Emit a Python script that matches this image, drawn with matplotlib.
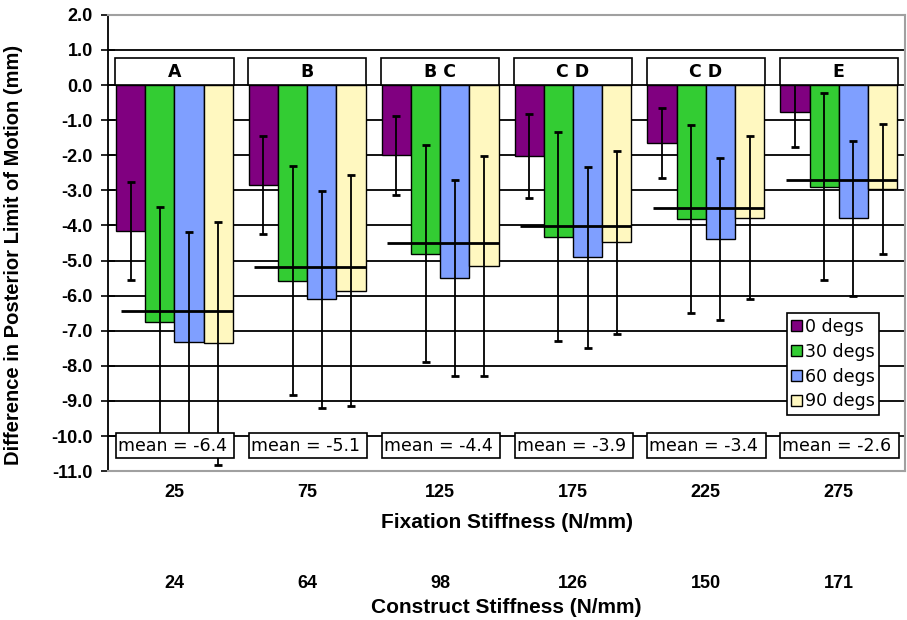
import matplotlib
matplotlib.use("Agg")
import matplotlib.pyplot as plt
from matplotlib.patches import Rectangle
import numpy as np

# ---- data ----
fixation = ["25", "75", "125", "175", "225", "275"]
construct = ["24", "64", "98", "126", "150", "171"]
groups = ["A", "B", "B C", "C D", "C D", "E"]
series = ["0 degs", "30 degs", "60 degs", "90 degs"]
vals_0 = [-4.15, -2.84, -2.00, -2.02, -1.65, -0.77]
vals_30 = [-6.75, -5.57, -4.80, -4.32, -3.82, -2.89]
vals_60 = [-7.31, -6.10, -5.50, -4.91, -4.38, -3.80]
vals_90 = [-7.36, -5.86, -5.15, -4.48, -3.78, -2.97]
sd_0 = [1.40, 1.39, 1.12, 1.21, 1.00, 1.00]
sd_30 = [3.29, 3.27, 3.08, 2.98, 2.68, 2.67]
sd_60 = [3.12, 3.09, 2.80, 2.58, 2.31, 2.21]
sd_90 = [3.45, 3.29, 3.13, 2.61, 2.32, 1.85]
mean_line = [-6.45, -5.18, -4.49, -4.01, -3.49, -2.69]
mean_text = ["-6.4", "-5.1", "-4.4", "-3.9", "-3.4", "-2.6"]

colors = ["#800080", "#33cc33", "#7f9fff", "#fff8c0"]

fig = plt.figure(figsize=(9.07, 6.20), dpi=100)
ax = fig.add_axes([0.119, 0.240, 0.879, 0.736])

x = np.arange(len(fixation))
w = 0.22
offsets = [-1.5 * w, -0.5 * w, 0.5 * w, 1.5 * w]
allvals = [vals_0, vals_30, vals_60, vals_90]
allsd = [sd_0, sd_30, sd_60, sd_90]

for k in range(4):
    ax.bar(x + offsets[k], allvals[k], width=w, color=colors[k],
           edgecolor="black", linewidth=1.0, label=series[k], zorder=2)
    ax.errorbar(x + offsets[k], allvals[k], yerr=allsd[k], fmt="none",
                ecolor="black", elinewidth=1.3, capsize=3.0, capthick=2.0,
                zorder=3)

# mean lines
for i in range(len(x)):
    ax.plot([x[i] - 0.40, x[i] + 0.44], [mean_line[i], mean_line[i]],
            color="black", lw=2.0, zorder=4, solid_capstyle="butt")

# group letter boxes
for i, g in enumerate(groups):
    ax.add_patch(Rectangle((x[i] - 0.445, 0.0), 0.89, 0.77,
                           facecolor="white", edgecolor="black", lw=1.2,
                           zorder=5))
    ax.text(x[i], 0.38, g, ha="center", va="center", fontsize=12.5,
            fontweight="bold", family="DejaVu Sans", zorder=6)

# mean boxes
for i, m in enumerate(mean_text):
    ax.add_patch(Rectangle((x[i] - 0.44, -10.62), 0.89, 0.72,
                           facecolor="white", edgecolor="black", lw=1.2,
                           zorder=5))
    ax.text(x[i] - 0.425, -10.27, "mean = " + m, ha="left", va="center",
            fontsize=12.5, family="DejaVu Sans", zorder=6)

ax.set_xlim(-0.5, 5.5)
ax.set_ylim(-11, 2)
ax.set_yticks(np.arange(-11, 2.01, 1.0))
ax.set_yticklabels([f"{v:.1f}" for v in np.arange(-11, 2.01, 1.0)],
                   fontsize=13, fontweight="bold", family="Liberation Sans")
ax.yaxis.grid(True, color="black", lw=1.3)
ax.set_axisbelow(True)

ax.set_xticks(x)
ax.set_xticklabels(fixation, fontsize=13, fontweight="bold",
                   family="Liberation Sans")
ax.tick_params(axis="x", length=0, pad=9)
ax.tick_params(axis="y", direction="inout", length=10, width=1.2, pad=6)
ax.set_xlabel("Fixation Stiffness (N/mm)", fontsize=15, fontweight="bold",
              family="Liberation Sans", labelpad=9)
ax.set_ylabel("Difference in Posterior Limit of Motion (mm)", fontsize=14.5,
              fontweight="bold", family="Liberation Sans")
ax.yaxis.set_label_coords(-0.106, 0.475)

for s in ["top", "right", "bottom"]:
    ax.spines[s].set_color("#a0a0a0")
    ax.spines[s].set_linewidth(1.5)
ax.spines["left"].set_color("black")
ax.spines["left"].set_linewidth(1.3)

sec = ax.secondary_xaxis(-0.21)
sec.set_xticks(x)
sec.set_xticklabels(construct, fontsize=13, fontweight="bold",
                    family="Liberation Sans")
sec.tick_params(axis="x", length=0, pad=6)
sec.spines["bottom"].set_visible(False)
sec.set_xlabel("Construct Stiffness (N/mm)", fontsize=15, fontweight="bold",
               family="Liberation Sans", labelpad=4)

leg = ax.legend(loc="lower right", bbox_to_anchor=(0.9785, 0.1045),
                frameon=True, fancybox=False,
                edgecolor="black", framealpha=1.0, handlelength=0.6,
                handleheight=0.6, handletextpad=0.2, borderpad=0.25,
                labelspacing=0.4, prop={"family": "DejaVu Sans", "size": 12.5})
leg.get_frame().set_linewidth(1.2)
leg.set_zorder(10)

fig.savefig("out.png", dpi=100)
